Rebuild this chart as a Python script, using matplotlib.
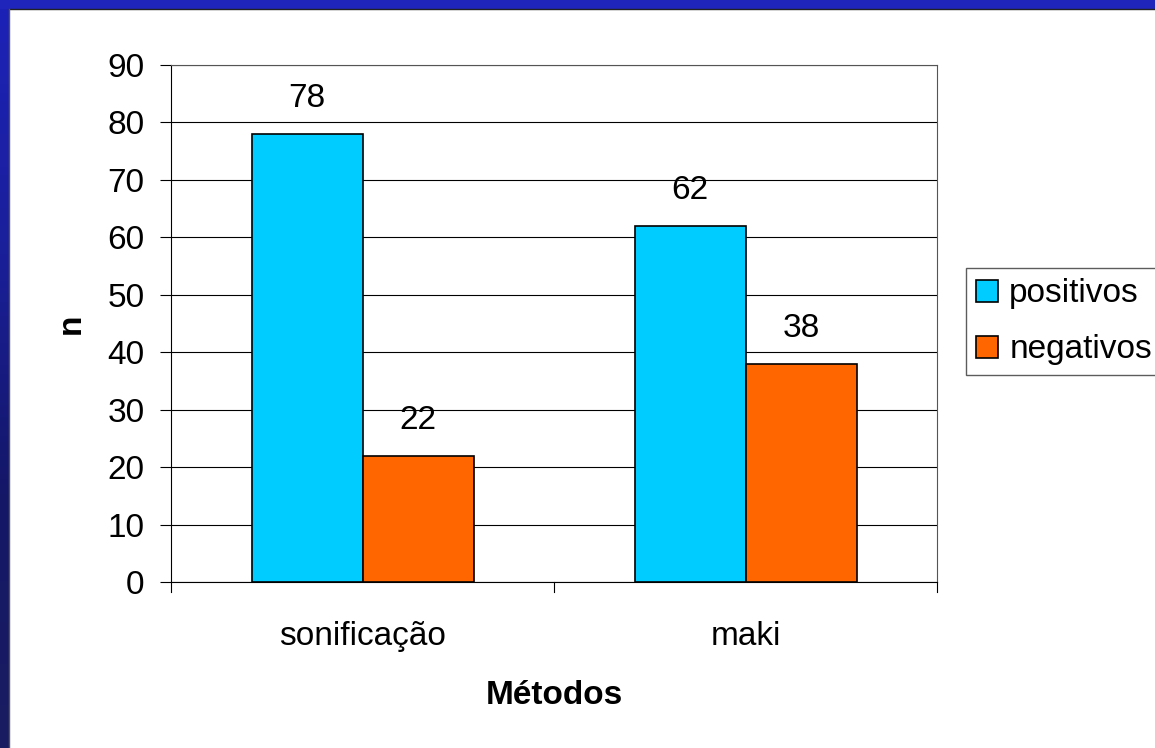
import matplotlib
matplotlib.use("Agg")
import matplotlib.pyplot as plt
import numpy as np
from matplotlib.colors import LinearSegmentedColormap

categories = ["sonificação", "maki"]
positivos = [78, 62]
negativos = [22, 38]
series_names = ["positivos", "negativos"]
yticks = [0, 10, 20, 30, 40, 50, 60, 70, 80, 90]

plt.rcParams['font.family'] = ['Liberation Sans', 'DejaVu Sans']

W, H = 1155, 748
fig = plt.figure(figsize=(W / 100, H / 100), dpi=100)
fig.patch.set_facecolor("white")

# background: blue frame on top and left
bg = fig.add_axes([0, 0, 1, 1], zorder=-10)
bg.set_xlim(0, W)
bg.set_ylim(H, 0)
bg.axis("off")
grad = np.linspace(0, 1, 256).reshape(-1, 1)
cmap = LinearSegmentedColormap.from_list("b", ["#1d22b8", "#1a1f9a", "#141766", "#1a1d60"])
bg.imshow(grad, cmap=cmap, extent=[0, 9, H, 0], aspect="auto")
bg.add_patch(plt.Rectangle((0, 0), W, 9, color="#1f25bb", lw=0))
bg.plot([9, W], [9, 9], color="#222222", lw=1)
bg.plot([9, 9], [9, H], color="#555555", lw=1)

FS = 24
ax = fig.add_axes([171 / W, 1 - 582 / H, (937 - 171) / W, (582 - 65) / H])
x = np.arange(len(categories))
bw = 111 / 383
b1 = ax.bar(x - bw / 2, positivos, bw, color="#00ccff", edgecolor="black", lw=1.2, label=series_names[0], zorder=3)
b2 = ax.bar(x + bw / 2, negativos, bw, color="#ff6600", edgecolor="black", lw=1.2, label=series_names[1], zorder=3)
for bars, vals in ((b1, positivos), (b2, negativos)):
    for r, v in zip(bars, vals):
        ax.annotate(str(v), (r.get_x() + r.get_width() / 2, v), xytext=(0, 14),
                    textcoords="offset points", ha="center", va="bottom", fontsize=FS)

ax.set_xlim(-0.5, len(categories) - 0.5)
ax.set_ylim(0, 90)
ax.set_yticks(yticks)
ax.yaxis.grid(True, color="black", lw=0.8, zorder=0)
ax.set_axisbelow(True)
ax.tick_params(axis="y", labelsize=FS, length=8, width=0.8, direction="out", pad=11)
ax.set_xticks(x)
ax.set_xticklabels(categories, fontsize=FS)
ax.tick_params(axis="x", length=0, pad=28)
for xb in [-0.5, 0.5, 1.5]:
    ax.plot([xb, xb], [0, -0.02], transform=ax.get_xaxis_transform(), color="black", lw=0.8, clip_on=False)
for s in ["top", "right"]:
    ax.spines[s].set_color("#555555")
ax.spines["left"].set_color("black")
ax.spines["bottom"].set_color("black")
ax.set_xlabel("Métodos", fontsize=FS, fontweight="bold", labelpad=20)
ax.set_ylabel("n", fontsize=FS, fontweight="bold", labelpad=15)

leg = ax.legend(loc="center left", bbox_to_anchor=(966 / W, 1 - 322 / H), bbox_transform=fig.transFigure,
                fontsize=FS, frameon=True, fancybox=False, edgecolor="#333333", handlelength=0.65,
                handleheight=0.65, handletextpad=0.35, borderpad=0.3, labelspacing=0.75, borderaxespad=0)
leg.get_frame().set_linewidth(1)

fig.savefig("out.png", dpi=100, facecolor="white")
